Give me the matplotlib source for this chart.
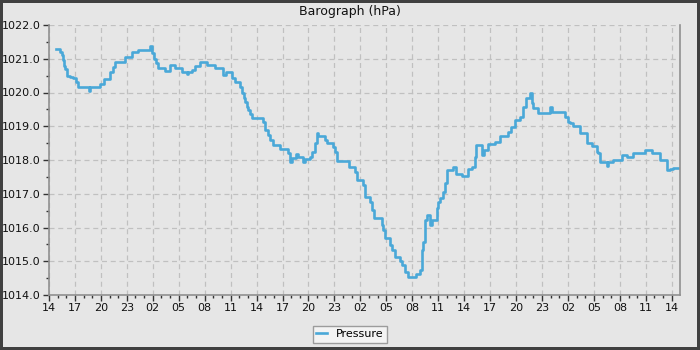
import matplotlib.pyplot as plt
from matplotlib.ticker import MultipleLocator, FuncFormatter

# hours after 14:00 on day one, and pressure in hPa (step samples)
hours = [0.77, 1.27, 1.5, 1.6, 1.73, 1.9, 2.05, 2.43, 2.77, 3.12, 3.35, 4.6, 4.75,
         5.9, 6.36, 7.05, 7.4, 7.63, 8.79, 9.6, 10.3, 11.68, 11.87, 12.14, 12.37,
         12.6, 13.4, 13.99, 14.57, 15.38, 15.9, 16.1, 16.53, 16.88, 17.46, 18.27,
         19.19, 20.12, 20.46, 21.16, 21.5, 22.08, 22.31, 22.49, 22.66, 22.86, 23.04,
         23.24, 23.43, 24.74, 24.97, 25.32, 25.55, 25.9, 26.71, 27.63, 27.9, 28.06,
         28.5, 28.8, 29.36, 29.6, 30.17, 30.4, 30.75, 30.95, 31.1, 31.91, 32.14,
         32.83, 33.06, 33.29, 34.7, 35.38, 35.61, 36.3, 36.53, 37.11, 37.34, 37.6,
         38.5, 38.65, 38.84, 39.42, 39.62, 40.0, 40.58, 40.81, 41.16, 41.54, 42.43,
         42.89, 43.09, 43.27, 43.47, 43.66, 44.05, 44.24, 44.82, 45.0, 45.2, 45.55,
         45.78, 45.98, 46.7, 47.0, 47.75, 48.44, 48.9, 49.25, 49.36, 50.06, 50.3,
         50.75, 51.56, 52.14, 53.06, 53.4, 53.87, 54.45, 54.8, 55.14, 55.61, 55.8,
         55.95, 56.53, 57.11, 57.92, 58.15, 59.6, 59.99, 60.23, 60.58, 61.39, 62.2,
         62.77, 63.32, 63.47, 63.7, 64.51, 64.66, 65.2, 66.24, 66.82, 67.51, 68.9,
         69.71, 70.64, 71.45, 71.79, 72.14, 72.72]
pressure = [1021.3, 1021.2, 1021.1, 1020.95, 1020.8, 1020.7, 1020.5, 1020.47, 1020.42,
            1020.3, 1020.15, 1020.04, 1020.15, 1020.25, 1020.4, 1020.62, 1020.76,
            1020.9, 1021.06, 1021.2, 1021.26, 1021.38, 1021.16, 1021.0, 1020.86,
            1020.72, 1020.65, 1020.81, 1020.72, 1020.62, 1020.55, 1020.62, 1020.67,
            1020.8, 1020.9, 1020.82, 1020.72, 1020.52, 1020.6, 1020.42, 1020.32,
            1020.17, 1019.98, 1019.83, 1019.73, 1019.58, 1019.48, 1019.36, 1019.24,
            1019.13, 1018.89, 1018.74, 1018.6, 1018.44, 1018.32, 1018.2, 1017.95,
            1018.05, 1018.18, 1018.1, 1017.95, 1018.02, 1018.1, 1018.25, 1018.5,
            1018.79, 1018.71, 1018.6, 1018.51, 1018.4, 1018.25, 1017.98, 1017.8,
            1017.65, 1017.41, 1017.26, 1016.91, 1016.76, 1016.52, 1016.27, 1016.07,
            1015.93, 1015.68, 1015.48, 1015.33, 1015.13, 1015.0, 1014.89, 1014.69,
            1014.54, 1014.61, 1014.74, 1015.33, 1015.58, 1016.22, 1016.37, 1016.07,
            1016.22, 1016.57, 1016.76, 1016.86, 1017.06, 1017.31, 1017.7, 1017.78,
            1017.6, 1017.52, 1017.72, 1017.78, 1018.1, 1018.44, 1018.15, 1018.3,
            1018.47, 1018.54, 1018.71, 1018.84, 1018.97, 1019.19, 1019.28, 1019.58,
            1019.83, 1019.98, 1019.68, 1019.53, 1019.38, 1019.4, 1019.58, 1019.41,
            1019.26, 1019.13, 1019.09, 1019.01, 1018.79, 1018.51, 1018.41, 1018.25,
            1018.2, 1017.95, 1017.83, 1017.95, 1018.0, 1018.15, 1018.1, 1018.2,
            1018.3, 1018.22, 1018.0, 1017.7, 1017.72, 1017.75, 1017.75]
start_hour = 14
bg = '#e6e6e6'

fig = plt.figure(figsize=(7, 3.5), dpi=100, facecolor=bg,
                 edgecolor='#404040', linewidth=3)
ax = fig.add_axes([49/700, 55/350, 631/700, 270/350])
ax.set_facecolor(bg)

ax.plot(hours, pressure, drawstyle='steps-post', color='#4aa8d8', lw=1.9,
        label='Pressure')

ax.set_xlim(0, 72.95)
ax.set_ylim(1014, 1022)
ax.xaxis.set_major_locator(MultipleLocator(3))
ax.xaxis.set_minor_locator(MultipleLocator(1))
ax.xaxis.set_major_formatter(FuncFormatter(lambda v, p: '%02d' % ((start_hour + int(round(v))) % 24)))
ax.yaxis.set_major_locator(MultipleLocator(1))
ax.yaxis.set_minor_locator(MultipleLocator(0.5))
ax.yaxis.set_major_formatter(FuncFormatter(lambda v, p: '%.1f' % v))

ax.grid(True, which='major', color='#c0c0c0', linestyle=(0, (4, 3)), lw=0.9)
ax.tick_params(which='major', length=4, width=1, color='#333333', labelsize=8,
               labelcolor='#111111', pad=2)
ax.tick_params(which='minor', length=2, width=1, color='#333333')
ax.spines['top'].set_visible(False)
for s in ['left', 'bottom', 'right']:
    ax.spines[s].set_color('#909090')
    ax.spines[s].set_linewidth(1.2)

fig.text(0.5, 1 - 12/350, 'Barograph (hPa)', ha='center', va='center',
         fontsize=9, color='#111111')
leg = fig.legend(loc='lower center', bbox_to_anchor=(0.5, 0.005), fontsize=8,
                 frameon=True, fancybox=False, handlelength=1.0,
                 borderpad=0.3, handletextpad=0.8)
leg.get_frame().set_facecolor('#f7f7f7')
leg.get_frame().set_edgecolor('#888888')

fig.savefig('out.png', dpi=100, facecolor=bg, edgecolor='#404040')
